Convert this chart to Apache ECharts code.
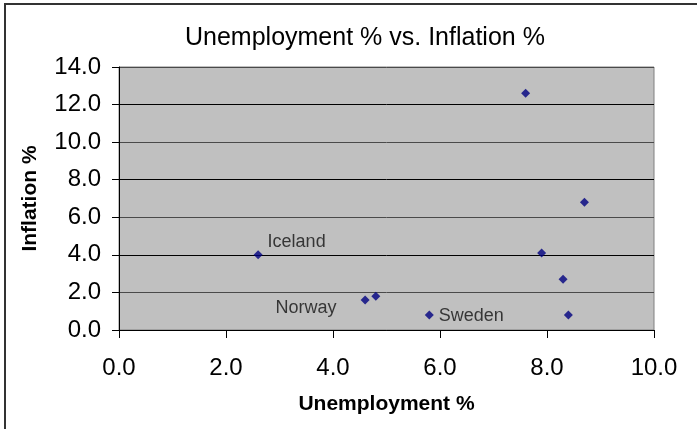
<!DOCTYPE html>
<html>
<head>
<meta charset="utf-8">
<script src="https://cdn.jsdelivr.net/npm/echarts@6/dist/echarts.min.js"></script>
<style>
html,body{margin:0;padding:0;background:#fff;}
#chart{width:697px;height:429px;}
</style>
</head>
<body>
<div id="chart"></div>
<script>
var unemployment = [7.6, 8.7, 7.9, 8.3, 8.4, 2.6, 4.6, 4.8, 5.8];
var inflation    = [12.6, 6.8, 4.1, 2.7, 0.8, 4.0, 1.6, 1.8, 0.8];
var pointNames   = ['', '', '', '', '', 'Iceland', 'Norway', '', 'Sweden'];
var xTicks = [0, 2, 4, 6, 8, 10];
var yTicks = [0, 2, 4, 6, 8, 10, 12, 14];

var labelStyles = {
  'Iceland': { position: 'right', offset: [0, -13] },
  'Norway':  { position: 'left',  offset: [-19, 8] },
  'Sweden':  { position: 'right', offset: [0, 1] }
};

var FONT = 'Liberation Sans, Arial, sans-serif';

var seriesData = unemployment.map(function (x, i) {
  var item = { value: [x, inflation[i]], name: pointNames[i] };
  if (pointNames[i]) {
    var st = labelStyles[pointNames[i]];
    item.label = {
      show: true,
      formatter: pointNames[i],
      position: st.position,
      offset: st.offset,
      distance: 5,
      fontSize: 18,
      fontFamily: FONT,
      color: '#111'
    };
  }
  return item;
});

var chart = echarts.init(document.getElementById('chart'), null, { renderer: 'canvas' });
chart.setOption({
  animation: false,
  backgroundColor: '#ffffff',
  title: {
    text: 'Unemployment % vs. Inflation %',
    left: 180,
    top: 21,
    textStyle: { fontFamily: FONT, fontSize: 25, fontWeight: 'normal', color: '#000' }
  },
  graphic: [{
    type: 'rect',
    shape: { x: 5, y: 4, width: 900, height: 700 },
    style: { fill: 'none', stroke: '#333', lineWidth: 2 },
    silent: true,
    z: 100
  }],
  grid: {
    left: 119, right: 43, top: 67, bottom: 99,
    show: true,
    backgroundColor: '#C0C0C0',
    borderColor: '#808080',
    borderWidth: 1
  },
  xAxis: {
    type: 'value',
    min: xTicks[0], max: xTicks[xTicks.length - 1], interval: xTicks[1] - xTicks[0],
    name: 'Unemployment %',
    nameLocation: 'middle',
    nameGap: 64,
    nameTextStyle: { fontFamily: FONT, fontSize: 21, fontWeight: 'bold', color: '#000' },
    axisLine: { show: true, onZero: false, lineStyle: { color: '#000', width: 1 } },
    axisTick: { show: true, length: 8, inside: false, lineStyle: { color: '#000' } },
    axisLabel: {
      margin: 26, fontFamily: FONT, fontSize: 24, color: '#000',
      formatter: function (v) { return v.toFixed(1); }
    },
    splitLine: { show: false }
  },
  yAxis: {
    type: 'value',
    min: yTicks[0], max: yTicks[yTicks.length - 1], interval: yTicks[1] - yTicks[0],
    name: 'Inflation %',
    nameLocation: 'middle',
    nameGap: 78,
    nameRotate: 90,
    nameTextStyle: { fontFamily: FONT, fontSize: 21, fontWeight: 'bold', color: '#000' },
    axisLine: { show: true, onZero: false, lineStyle: { color: '#000', width: 1 } },
    axisTick: { show: true, length: 7, lineStyle: { color: '#000' } },
    axisLabel: {
      margin: 18, fontFamily: FONT, fontSize: 24, color: '#000',
      formatter: function (v) { return v.toFixed(1); }
    },
    splitLine: { show: true, lineStyle: { color: ['#000', '#4a4a4a'], width: 1 } }
  },
  series: [{
    type: 'scatter',
    symbol: 'diamond',
    symbolSize: 9,
    itemStyle: { color: '#000080' },
    data: seriesData
  }]
});
</script>
</body>
</html>
